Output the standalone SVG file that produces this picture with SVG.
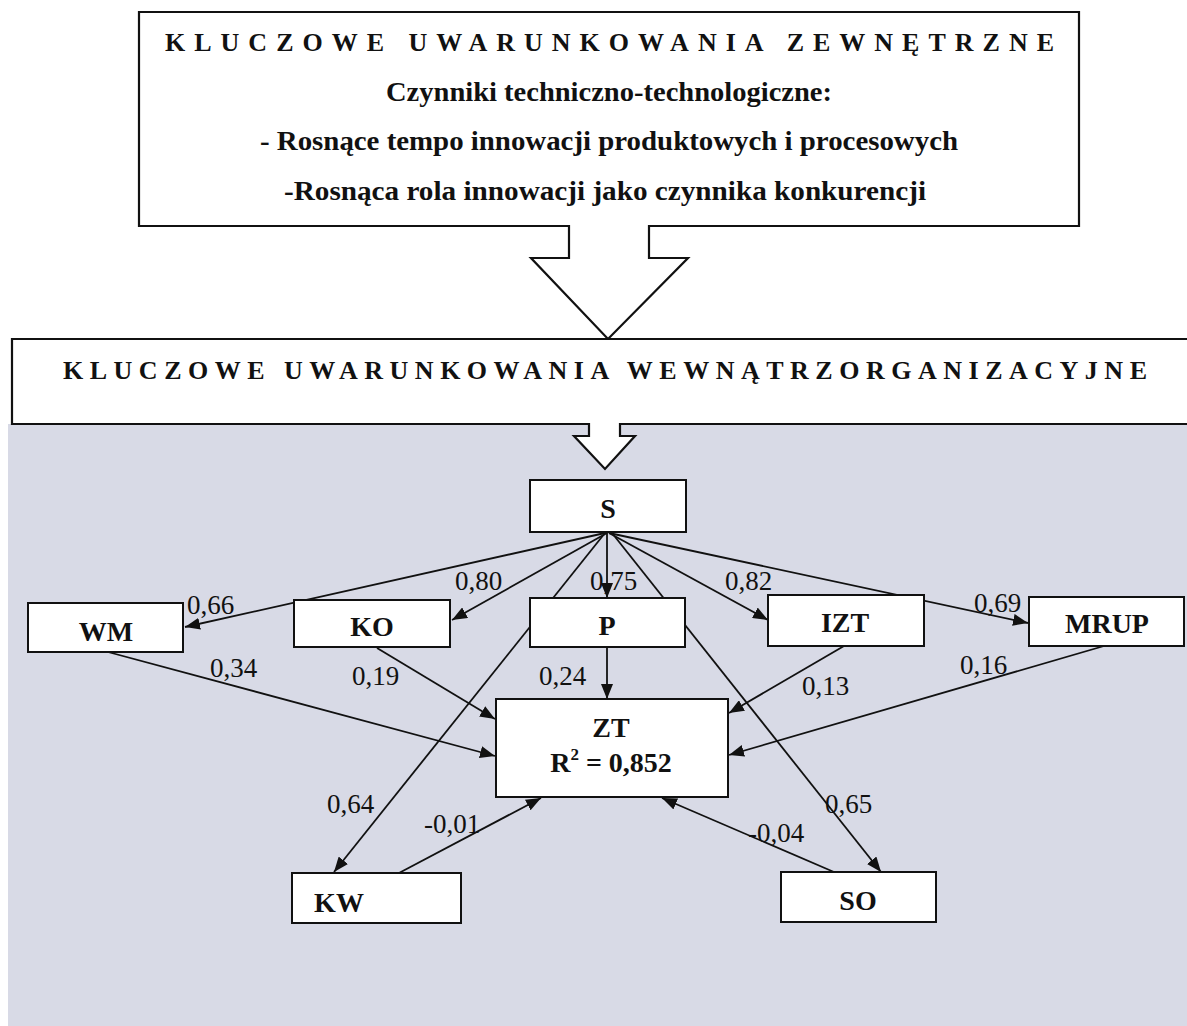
<svg xmlns="http://www.w3.org/2000/svg" width="1187" height="1026" viewBox="0 0 1187 1026">
<style>
text{font-family:"Liberation Serif","Times New Roman",serif;fill:#111}
.hd{font-weight:bold;font-size:26px}
.ln{font-weight:bold;font-size:27px}
.nd rect{fill:#fff;stroke:#111;stroke-width:2}
.nd text{font-weight:bold;font-size:28px;text-anchor:middle}
.big{fill:#fff;stroke:#111;stroke-width:2.2;stroke-linejoin:miter}
.lb text{font-size:27px}
.cn line{stroke:#111;stroke-width:1.8;marker-end:url(#ah)}
</style>
<defs>
<marker id="ah" markerUnits="userSpaceOnUse" markerWidth="16" markerHeight="12" refX="15" refY="6" orient="auto">
<path d="M0,0 L15,6 L0,12 Z" fill="#111"/>
</marker>
</defs>
<rect x="0" y="0" width="1187" height="1026" fill="#fff"/>
<rect id="bg" x="8" y="424" width="1179" height="602" fill="#d8dae6"/>

<g id="external">
<path class="big" d="M139,12 H1079 V226 H649 V258 H688 L608,339 L531,258 H569 V226 H139 Z"/>
<text class="hd" x="165" y="51" textLength="889" lengthAdjust="spacing">KLUCZOWE UWARUNKOWANIA ZEWNĘTRZNE</text>
<text class="ln" x="386" y="101" textLength="446" lengthAdjust="spacingAndGlyphs">Czynniki techniczno-technologiczne:</text>
<text class="ln" x="260" y="150" textLength="698" lengthAdjust="spacingAndGlyphs">- Rosnące tempo innowacji produktowych i procesowych</text>
<text class="ln" x="284" y="200" textLength="642" lengthAdjust="spacingAndGlyphs">-Rosnąca rola innowacji jako czynnika konkurencji</text>
</g>

<g id="internal">
<path class="big" d="M12,339 H1200 V424 H620 V436 H635 L605,469 L574,436 H589 V424 H12 Z"/>
<text class="hd" x="63" y="379" textLength="1084" lengthAdjust="spacing">KLUCZOWE UWARUNKOWANIA WEWNĄTRZORGANIZACYJNE</text>
</g>

<g id="labels" class="lb">
<text x="187" y="614">0,66</text>
<text x="455" y="590">0,80</text>
<text x="590" y="590">0,75</text>
<text x="725" y="590">0,82</text>
<text x="974" y="612">0,69</text>
<text x="210" y="677">0,34</text>
<text x="352" y="685">0,19</text>
<text x="539" y="685">0,24</text>
<text x="802" y="695">0,13</text>
<text x="960" y="674">0,16</text>
<text x="327" y="813">0,64</text>
<text x="424" y="833">-0,01</text>
<text x="825" y="813">0,65</text>
<text x="748" y="842">-0,04</text>
</g>

<g id="connectors" class="cn">
<line x1="605" y1="533" x2="185" y2="627"/>
<line x1="607" y1="533" x2="452" y2="620"/>
<line x1="607" y1="533" x2="607" y2="598"/>
<line x1="609" y1="533" x2="768" y2="620"/>
<line x1="609" y1="533" x2="1028" y2="623"/>
<line x1="605" y1="533" x2="334" y2="872"/>
<line x1="612" y1="533" x2="881" y2="872"/>
<line x1="108" y1="652" x2="495" y2="756"/>
<line x1="377" y1="648" x2="495" y2="719"/>
<line x1="607" y1="647" x2="607" y2="699"/>
<line x1="844" y1="646" x2="729" y2="713"/>
<line x1="1104" y1="646" x2="729" y2="755"/>
<line x1="399" y1="873" x2="541" y2="798"/>
<line x1="834" y1="872" x2="662" y2="798"/>
</g>

<g id="S" class="nd"><rect x="530" y="480" width="156" height="52"/><text x="608" y="518">S</text></g>
<g id="WM" class="nd"><rect x="28" y="603" width="155" height="49"/><text x="106" y="641">WM</text></g>
<g id="KO" class="nd"><rect x="294" y="600" width="156" height="47"/><text x="372" y="636">KO</text></g>
<g id="P" class="nd"><rect x="530" y="598" width="155" height="49"/><text x="607" y="635">P</text></g>
<g id="IZT" class="nd"><rect x="768" y="595" width="156" height="51"/><text x="845" y="632">IZT</text></g>
<g id="MRUP" class="nd"><rect x="1029" y="597" width="155" height="49"/><text x="1107" y="633">MRUP</text></g>
<g id="ZT" class="nd"><rect x="496" y="699" width="232" height="98"/><text x="611" y="737">ZT</text><text x="611" y="772">R<tspan font-size="17" dy="-12">2</tspan><tspan dy="12"> = 0,852</tspan></text></g>
<g id="KW" class="nd"><rect x="292" y="873" width="169" height="50"/><text x="339" y="912">KW</text></g>
<g id="SO" class="nd"><rect x="781" y="872" width="155" height="50"/><text x="858" y="910">SO</text></g>
</svg>
